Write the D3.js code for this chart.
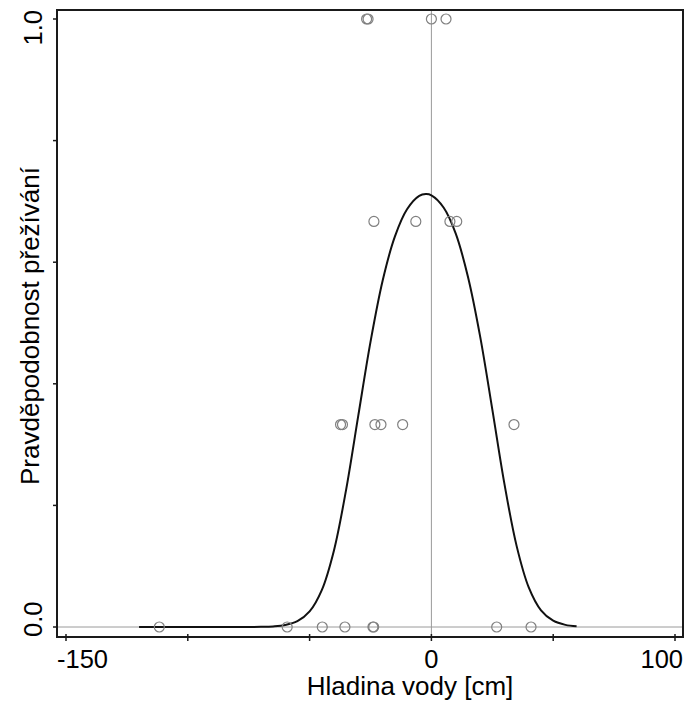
<!DOCTYPE html>
<html>
<head>
<meta charset="utf-8">
<script src="https://cdn.jsdelivr.net/npm/d3@7"></script>
<style>
  html, body { margin: 0; padding: 0; background: #fff; }
  svg { display: block; font-family: "Liberation Sans", Arial, sans-serif; }
</style>
</head>
<body>
<svg id="chart" width="687" height="701"></svg>
<script>
// Observed survival per water level (open circles)
const obsX = [-26.6, -26.0, 0.0, 6.0,
              -23.6, -6.4, 7.6, 10.4,
              -37.3, -36.5, -23.2, -20.7, -11.8, 33.9,
              -111.7, -59.2, -44.8, -35.5, -24.0, -23.7, 26.8, 40.9];
const obsY = [1, 1, 1, 1,
              0.667, 0.667, 0.667, 0.667,
              0.333, 0.333, 0.333, 0.333, 0.333, 0.333,
              0, 0, 0, 0, 0, 0, 0, 0];

// Fitted survival curve, sampled every 5 cm (plus its peak)
const fitX = [-120, -90, -80, -70, -65, -60, -55, -50, -45, -40, -35, -30, -25, -20, -15, -10, -5,
              -2.3, 0, 5, 10, 15, 20, 25, 30, 35, 40, 45, 50, 55, 59.6];
const fitY = [0.0, 0.0, 0.00001, 0.0003, 0.001, 0.0032, 0.0095, 0.0256, 0.0607, 0.126, 0.226, 0.348,
              0.469, 0.570, 0.642, 0.687, 0.709, 0.712, 0.710, 0.690, 0.647, 0.576, 0.478, 0.358,
              0.235, 0.133, 0.0647, 0.0274, 0.0103, 0.0035, 0.0012];

// Axes
const xTicks = [-150, -100, -50, 0, 50, 100];
const xTickLabels = [-150, 0, 100];
const yTicks = [0, 0.2, 0.4, 0.6, 0.8, 1.0];
const yTickLabels = [0, 1];
const xTitle = "Hladina vody [cm]";
const yTitle = "Pravděpodobnost přežívání";

const svg = d3.select("#chart");
const box = { left: 57, right: 683, top: 10, bottom: 637 };

const x = d3.scaleLinear().domain([-150, 100]).range([66, 675]);
const y = d3.scaleLinear().domain([0, 1]).range([627, 19]);

// reference lines at zero
svg.append("line")
  .attr("x1", box.left).attr("x2", box.right)
  .attr("y1", y(0)).attr("y2", y(0))
  .attr("stroke", "#9a9a9a").attr("stroke-width", 1);
svg.append("line")
  .attr("x1", x(0)).attr("x2", x(0))
  .attr("y1", box.top).attr("y2", box.bottom)
  .attr("stroke", "#9a9a9a").attr("stroke-width", 1);

// fitted curve
const fit = fitX.map((d, i) => [d, fitY[i]]);
svg.append("path")
  .datum(fit)
  .attr("fill", "none")
  .attr("stroke", "#111")
  .attr("stroke-width", 2)
  .attr("d", d3.line().x(d => x(d[0])).y(d => y(d[1])).curve(d3.curveCatmullRom.alpha(0.5)));

// observations
svg.append("g").selectAll("circle")
  .data(obsX.map((d, i) => [d, obsY[i]]))
  .join("circle")
  .attr("cx", d => x(d[0]))
  .attr("cy", d => y(d[1]))
  .attr("r", 5)
  .attr("fill", "none")
  .attr("stroke", "#808080")
  .attr("stroke-width", 1.2);

// frame
svg.append("rect")
  .attr("x", box.left).attr("y", box.top)
  .attr("width", box.right - box.left).attr("height", box.bottom - box.top)
  .attr("fill", "none").attr("stroke", "#1a1a1a").attr("stroke-width", 2);

// x ticks
svg.append("g").selectAll("line")
  .data(xTicks).join("line")
  .attr("x1", d => x(d)).attr("x2", d => x(d))
  .attr("y1", box.bottom - 3).attr("y2", box.bottom + 4)
  .attr("stroke", "#1a1a1a").attr("stroke-width", 1.5);

// y ticks
svg.append("g").selectAll("line")
  .data(yTicks).join("line")
  .attr("x1", box.left - 4).attr("x2", box.left + 1)
  .attr("y1", d => y(d)).attr("y2", d => y(d))
  .attr("stroke", "#1a1a1a").attr("stroke-width", 1.5);

// x tick labels, kept inside the frame width
const xl = svg.append("g").selectAll("text")
  .data(xTickLabels).join("text")
  .attr("y", 668)
  .attr("font-size", 25.5)
  .attr("text-anchor", "middle")
  .attr("fill", "#000")
  .text(d => d);
xl.each(function (d) {
  const w = this.getComputedTextLength();
  const cx = Math.max(box.left + w / 2, Math.min(box.right - w / 2, x(d)));
  d3.select(this).attr("x", cx);
});

// y tick labels (rotated), kept inside the frame height
const yl = svg.append("g").selectAll("text")
  .data(yTickLabels).join("text")
  .attr("font-size", 25.5)
  .attr("text-anchor", "middle")
  .attr("fill", "#000")
  .text(d => d.toFixed(1));
yl.each(function (d) {
  const w = this.getComputedTextLength();
  const cy = Math.max(box.top + w / 2, Math.min(box.bottom - w / 2, y(d)));
  d3.select(this).attr("transform", `translate(42,${cy}) rotate(-90)`);
});

// axis titles
svg.append("text")
  .attr("x", 410).attr("y", 695)
  .attr("font-size", 26)
  .attr("text-anchor", "middle")
  .attr("fill", "#000")
  .text(xTitle);
svg.append("text")
  .attr("transform", "translate(39,326) rotate(-90)")
  .attr("font-size", 26)
  .attr("text-anchor", "middle")
  .attr("fill", "#000")
  .text(yTitle);
</script>
</body>
</html>
